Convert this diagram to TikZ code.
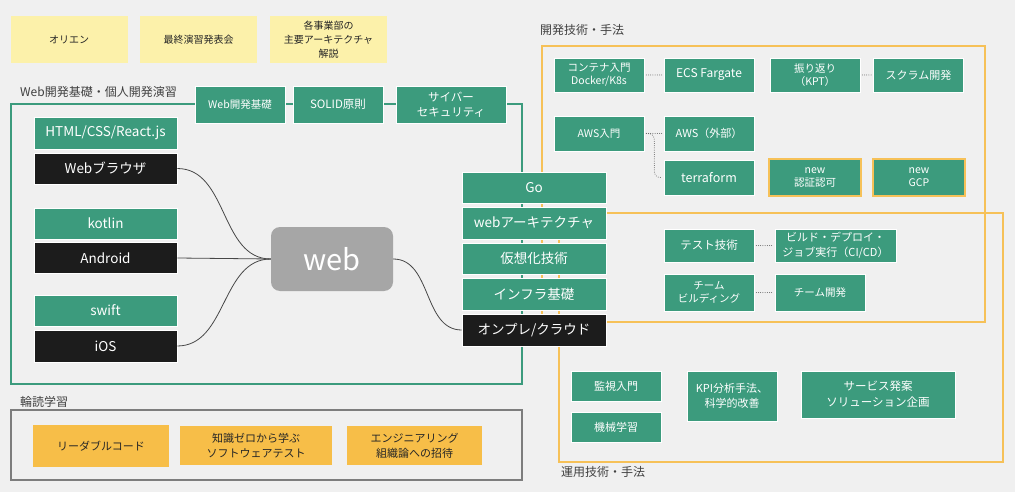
\documentclass[tikz,border=0pt]{standalone}
\usepackage{fontspec}
\setmainfont{Noto Sans CJK JP}
\usetikzlibrary{positioning}

\definecolor{bgcol}{RGB}{240,240,240}
\definecolor{boxgreen}{RGB}{60,155,125}
\definecolor{boxblack}{RGB}{28,28,28}
\definecolor{paleyellow}{RGB}{252,241,170}
\definecolor{bookorange}{RGB}{247,190,72}
\definecolor{lineorange}{RGB}{246,193,88}
\definecolor{framegray}{RGB}{125,125,125}
\definecolor{webgray}{RGB}{166,166,166}

\tikzset{
  box/.style={minimum width=90pt, minimum height=34pt, inner sep=1pt, align=center,
    text=white, fill=boxgreen, draw=white, line width=0.6pt,
    font=\fontsize{10.5}{13}\selectfont},
  bigbox/.style={box, minimum width=143pt, minimum height=31pt,
    font=\fontsize{13.5}{16}\selectfont},
  darkbox/.style={bigbox, fill=boxblack},
  newbox/.style={box, draw=lineorange, line width=1.6pt, minimum width=92pt, minimum height=37pt},
  memo/.style={box, fill=paleyellow, text=black!85, draw=none,
    minimum width=117pt, minimum height=47pt, font=\fontsize{10}{14}\selectfont},
  book/.style={box, fill=bookorange, text=black!85, draw=none, minimum height=39pt,
    font=\fontsize{11}{15}\selectfont},
  link/.style={draw=black!72, line width=0.8pt},
  dotlink/.style={draw=black!60, line width=1pt, line cap=round, dash pattern=on 0pt off 2.2pt},
  grouplabel/.style={anchor=west, inner sep=0pt, text=black!75,
    font=\fontsize{12}{14}\selectfont},
}

\begin{document}
\begin{tikzpicture}[x=1pt, y=-1pt]
  \fill[bgcol] (0,0) rectangle (1015,492);
  \useasboundingbox (0,0) rectangle (1015,492);

  % group frames
  \draw[boxgreen, line width=1.5pt] (11,104) rectangle (522,384);
  \draw[lineorange, line width=1.4pt] (542,46) rectangle (985,322);
  \draw[lineorange, line width=1.4pt] (559,213) rectangle (1003,462);
  \draw[framegray, line width=1.5pt] (11,410) rectangle (522,480);

  \node[grouplabel] (lblweb) at (20,92) {Web開発基礎・個人開発演習};
  \node[grouplabel] (lbldev) at (540,30) {開発技術・手法};
  \node[grouplabel] (lblread) at (20,402) {輪読学習};
  \node[grouplabel] (lblops) at (561,472) {運用技術・手法};

  % events
  \node[memo] (orien) at (69,39.5) {オリエン};
  \node[memo] (final) at (198.5,39.5) {最終演習発表会};
  \node[memo] (archtalk) at (328.5,39.5) {各事業部の\\主要アーキテクチャ\\解説};

  % basics on the frame
  \node[box, font=\fontsize{10.5}{13}\selectfont, minimum height=37pt] (webbasic) at (240,104.5) {Web開発基礎};
  \node[box, font=\fontsize{11.5}{14}\selectfont, minimum height=37pt] (solid) at (338,104.5) {SOLID原則};
  \node[box, font=\fontsize{11.5}{15}\selectfont, minimum width=110pt, minimum height=37pt] (cyber) at (451,104.5) {サイバー\\セキュリティ};

  % clients
  \node[bigbox, minimum height=32pt] (html) at (105.5,133) {HTML/CSS/React.js};
  \node[darkbox] (browser) at (105.5,168.5) {Webブラウザ};
  \node[bigbox] (kotlin) at (105.5,223.5) {kotlin};
  \node[darkbox] (android) at (105.5,258) {Android};
  \node[bigbox] (swift) at (105.5,310.5) {swift};
  \node[darkbox, minimum height=32pt] (ios) at (105.5,346) {iOS};

  \node[fill=webgray, rounded corners=9pt, minimum width=122pt, minimum height=64pt,
    text=white, font=\fontsize{29}{32}\selectfont] (web) at (332,259) {web};

  \draw[link] (browser.east) to[out=0, in=180] (web.west);
  \draw[link] (android.east) -- (web.west);
  \draw[link] (ios.east) to[out=0, in=180] (web.west);

  % server side stack
  \node[bigbox, minimum width=144pt] (go) at (534,187.5) {Go};
  \node[bigbox, minimum width=144pt, minimum height=32pt] (arch) at (534,223) {webアーキテクチャ};
  \node[bigbox, minimum width=144pt] (virt) at (534,258.5) {仮想化技術};
  \node[bigbox, minimum width=144pt, minimum height=32pt] (infra) at (534,294) {インフラ基礎};
  \node[darkbox, minimum width=144pt, minimum height=32pt] (onpre) at (534,330) {オンプレ/クラウド};

  \draw[link] (web.east) to[out=0, in=180] (onpre.west);

  % development
  \node[box] (container) at (599,75) {コンテナ入門\\Docker/K8s};
  \node[box, font=\fontsize{12}{14}\selectfont] (ecs) at (709,75) {ECS Fargate};
  \node[box] (kpt) at (815,75) {振り返り\\（KPT）};
  \node[box, font=\fontsize{11}{14}\selectfont] (scrum) at (918.5,75) {スクラム開発};
  \node[box, minimum height=35pt] (awsintro) at (599,133.5) {AWS入門};
  \node[box, minimum height=35pt, font=\fontsize{11}{14}\selectfont] (awsext) at (709,133.5) {AWS（外部）};
  \node[box, minimum height=35pt, font=\fontsize{12.5}{14}\selectfont] (terraform) at (709,177.5) {terraform};
  \node[newbox] (authz) at (815,177.5) {new\\認証認可};
  \node[newbox] (gcp) at (919,177.5) {new\\GCP};

  \draw[dotlink, shorten <=2pt, shorten >=2pt] (container.east) -- (ecs.west);
  \draw[dotlink, shorten <=2pt, shorten >=2pt] (kpt.east) -- (scrum.west);
  \draw[dotlink, shorten <=2pt, shorten >=2pt] (awsintro.east) -- (awsext.west);
  \draw[dotlink, rounded corners=6pt, shorten <=2pt, shorten >=2pt] (awsintro.east) -- ++(10,0) |- (terraform.west);

  \node[box, minimum height=33pt, font=\fontsize{11.5}{14}\selectfont] (testing) at (709,245.5) {テスト技術};
  \node[box, minimum width=121pt, minimum height=33pt, font=\fontsize{11}{15}\selectfont] (cicd) at (835.5,245.5) {ビルド・デプロイ・\\ジョブ実行（CI/CD）};
  \node[box, minimum height=37pt] (teambuild) at (709,292.5) {チーム\\ビルディング};
  \node[box, minimum height=37pt] (teamdev) at (820,292.5) {チーム開発};

  \draw[dotlink, shorten <=2pt, shorten >=2pt] (testing.east) -- (cicd.west);
  \draw[dotlink, shorten <=2pt, shorten >=2pt] (teambuild.east) -- (teamdev.west);

  % operation
  \node[box, minimum height=30pt, font=\fontsize{11}{14}\selectfont] (monitor) at (616,386) {監視入門};
  \node[box, minimum height=30pt, font=\fontsize{11}{14}\selectfont] (mlearn) at (616,427) {機械学習};
  \node[box, minimum height=50pt, font=\fontsize{11}{15}\selectfont] (kpi) at (732,396) {KPI分析手法、\\科学的改善};
  \node[box, minimum width=154pt, minimum height=47pt, font=\fontsize{11.5}{16}\selectfont] (service) at (878,394.5) {サービス発案\\ソリューション企画};

  % reading
  \node[book, minimum width=136pt, minimum height=42pt] (readable) at (101,446) {リーダブルコード};
  \node[book, minimum width=152pt] (swtest) at (256,445.5) {知識ゼロから学ぶ\\ソフトウェアテスト};
  \node[book, minimum width=135pt] (orgtheory) at (414.5,445.5) {エンジニアリング\\組織論への招待};
\end{tikzpicture}
\end{document}
